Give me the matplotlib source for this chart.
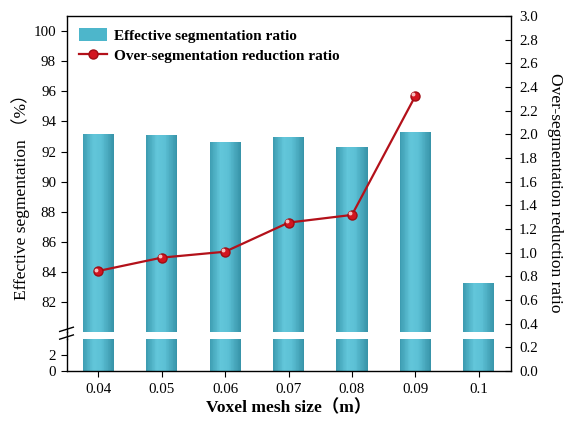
import matplotlib
matplotlib.use("Agg")
import matplotlib.pyplot as plt
import numpy as np
from matplotlib.colors import LinearSegmentedColormap
from matplotlib.patches import Patch
from matplotlib.lines import Line2D

categories = ["0.04", "0.05", "0.06", "0.07", "0.08", "0.09", "0.1"]
effective_seg = [93.18, 93.09, 92.63, 92.96, 92.30, 93.27, 83.30]
over_seg_reduction = [0.845, 0.958, 1.008, 1.254, 1.319, 2.325]
upper_ticks = [82, 84, 86, 88, 90, 92, 94, 96, 98, 100]
lower_ticks = [0, 2]
right_ticks = [0.0, 0.2, 0.4, 0.6, 0.8, 1.0, 1.2, 1.4, 1.6, 1.8, 2.0, 2.2, 2.4, 2.6, 2.8, 3.0]

serif = ["Liberation Serif", "Noto Sans CJK SC", "DejaVu Serif"]
plt.rcParams["font.family"] = serif
plt.rcParams["axes.linewidth"] = 1.0

fig = plt.figure(figsize=(5.7, 4.28), dpi=100)
L, W = 0.1167, 0.779
ax_up = fig.add_axes([L, 0.2236, W, 0.739])
ax_lo = fig.add_axes([L, 0.1332, W, 0.0740])
ax_r = fig.add_axes([L, 0.1332, W, 0.8294])
ax_r.patch.set_alpha(0)

x = np.arange(len(categories))
bw = 0.49
cmap = LinearSegmentedColormap.from_list(
    "cyl", [(0, "#3C9BB0"), (0.35, "#62C6DA"), (0.6, "#5CC0D5"), (1.0, "#3793A8")])
nslice = 40
offsets = (np.arange(nslice) + 0.5) / nslice  # slice centres across bar width

tick_fs = 10.8
for ax, ylim in [(ax_up, (80, 101)), (ax_lo, (0, 4))]:
    for f in offsets:
        ax.bar(x - bw / 2 + f * bw, effective_seg, width=bw / nslice * 1.05,
               color=cmap(f), edgecolor="none", linewidth=0, zorder=2)
    ax.set_xlim(-0.5, len(categories) - 0.5)
    ax.set_ylim(*ylim)
    ax.spines["right"].set_visible(False)
    ax.tick_params(axis="y", direction="out", length=4, labelsize=tick_fs)

ax_up.spines["bottom"].set_visible(False)
ax_up.set_xticks([])
ax_up.set_yticks(upper_ticks)
ax_lo.spines["top"].set_visible(False)
ax_lo.set_yticks(lower_ticks)
ax_lo.set_xticks(x)
ax_lo.set_xticklabels(categories)
ax_lo.tick_params(axis="x", direction="out", length=4, labelsize=tick_fs, pad=5)

# right axis with line
ax_r.plot(x[:len(over_seg_reduction)], over_seg_reduction, color="#B3111A", lw=1.6,
          marker="o", markersize=6.5, markerfacecolor="#D31520", markeredgecolor="#A00C14",
          zorder=5)
ax_r.plot(x[:len(over_seg_reduction)] - 0.03, np.array(over_seg_reduction) + 0.012,
          ls="none", marker="o", markersize=1.8, color="#F6C0C0", zorder=6)
ax_r.set_xlim(-0.5, len(categories) - 0.5)
ax_r.set_ylim(0, 3.0)
ax_r.set_xticks([])
ax_r.yaxis.tick_right()
ax_r.yaxis.set_label_position("right")
ax_r.set_yticks(right_ticks)
ax_r.set_yticklabels([f"{t:.1f}" for t in right_ticks])
ax_r.tick_params(axis="y", direction="in", length=4, labelsize=tick_fs, pad=6)
for s in ["left", "top", "bottom"]:
    ax_r.spines[s].set_visible(False)

# continuous left spine across the break
fig.add_artist(Line2D([L, L], [0.2072, 0.2236], transform=fig.transFigure, color="black", lw=1.0))
# break marks
for dy in (0.0, 0.018):
    fig.add_artist(Line2D([L - 0.012, L + 0.012], [0.2075 + dy, 0.2175 + dy],
                          transform=fig.transFigure, color="black", lw=1.0))

# labels
fig.text(0.036, 0.55, "Effective segmentation （%）", rotation=90, ha="center", va="center",
         fontsize=12.5, family=serif)
fig.text(0.973, 0.55, "Over-segmentation reduction ratio", rotation=270, ha="center", va="center",
         fontsize=12.5, family=serif)
fig.text(0.506, 0.046, "Voxel mesh size（m）", ha="center", va="center",
         fontsize=12.5, fontweight="bold", family=serif)

handles = [Patch(facecolor="#4DB6CB", edgecolor="none"),
           Line2D([0], [0], color="#B3111A", lw=1.6, marker="o", markersize=6.5,
                  markerfacecolor="#D31520", markeredgecolor="#A00C14")]
ax_r.legend(handles, ["Effective segmentation ratio", "Over-segmentation reduction ratio"],
            loc="upper left", bbox_to_anchor=(0.005, 0.995), frameon=False,
            prop={"family": serif, "weight": "bold", "size": 11},
            handlelength=1.8, handleheight=0.9, handletextpad=0.45, labelspacing=0.35,
            borderaxespad=0.3)

fig.savefig("out.png", dpi=100)
